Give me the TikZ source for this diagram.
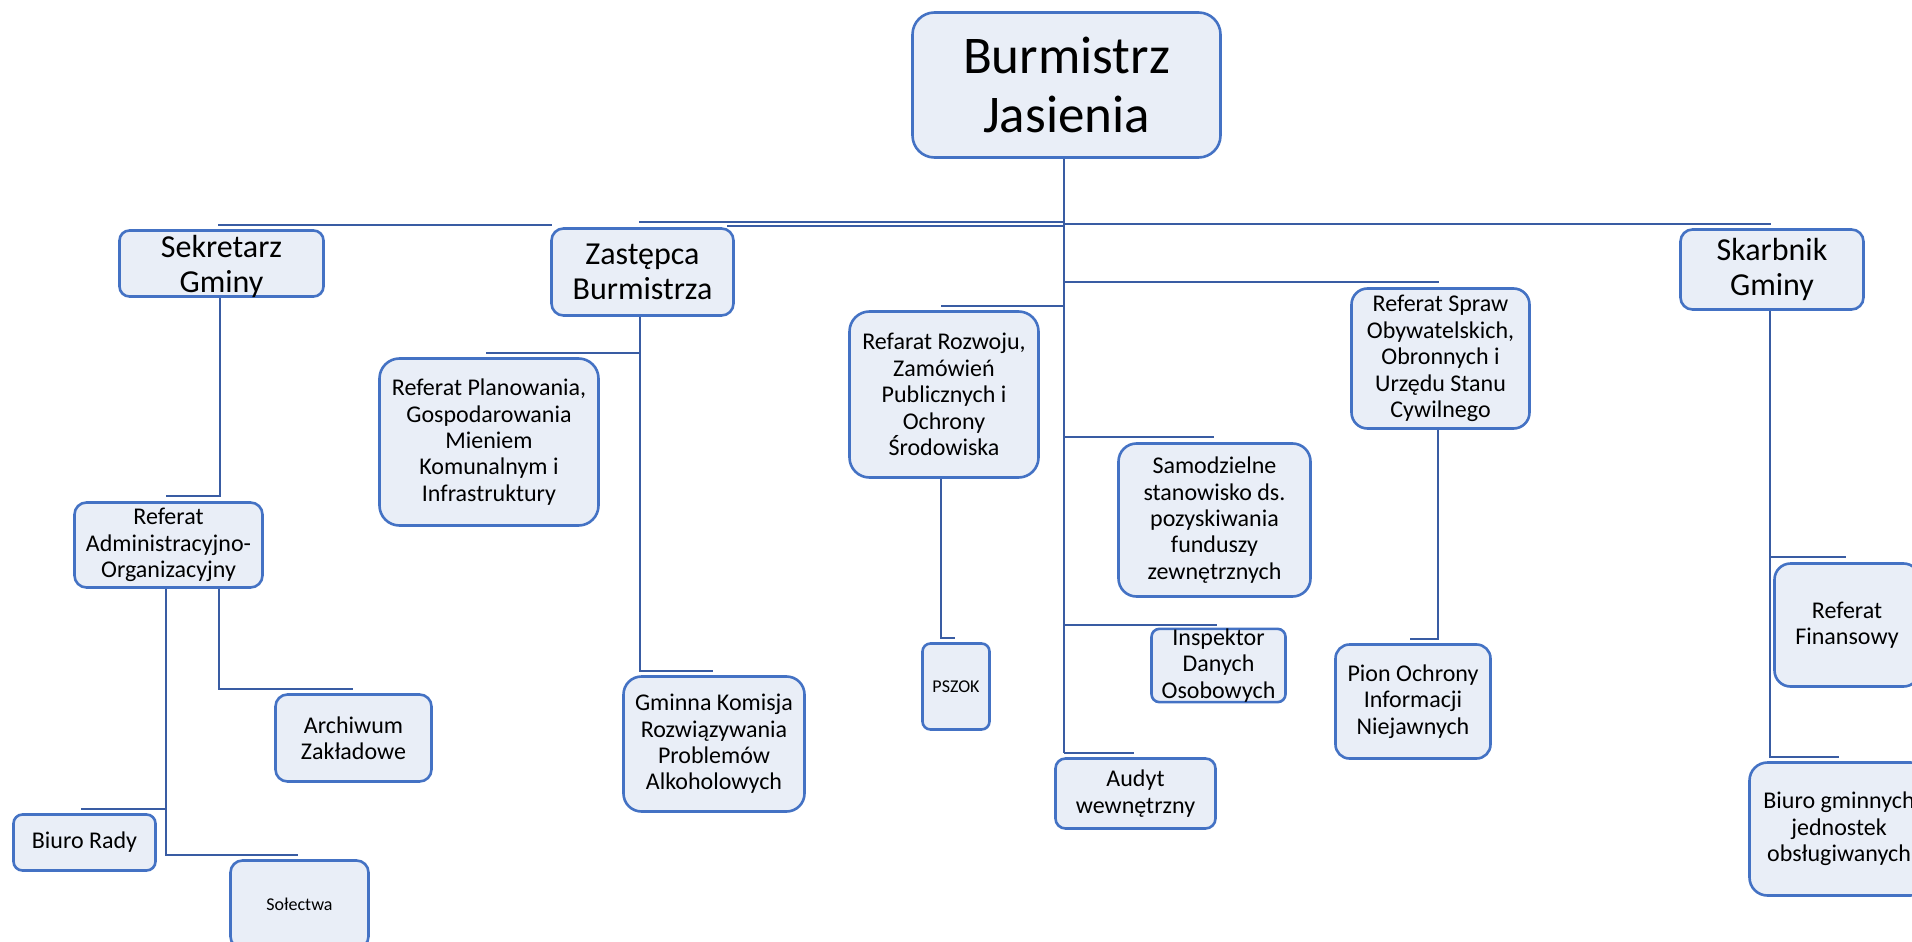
\documentclass[tikz,border=0pt]{standalone}
\usepackage{fontspec}
\setmainfont{Carlito}
\definecolor{boxline}{RGB}{68,114,196}
\definecolor{boxfill}{RGB}{233,238,247}
\definecolor{connline}{RGB}{57,92,163}
\begin{document}
\begin{tikzpicture}[x=1pt,y=-1pt,
  box/.style={draw=boxline, fill=boxfill, line width=2.6pt, rounded corners=#1,
              inner sep=0pt, align=center, text=black},
  box/.default=14pt,
  fA/.style={font=\fontsize{53}{59}\selectfont},
  fB/.style={font=\fontsize{32}{35}\selectfont},
  fC/.style={font=\fontsize{24}{26.4}\selectfont},
  fD/.style={font=\fontsize{18}{20}\selectfont},
  conn/.style={draw=connline, line width=2.9pt},
  thinconn/.style={draw=connline, line width=1.8pt}]
\useasboundingbox (0,0) rectangle (1912,942);
\fill[white] (0,0) rectangle (1912,942);
\clip (0,0) rectangle (1912,942);

% ---------- coordinates ----------
\coordinate (trunkEnd) at (1064,753);
\coordinate (hSkarbEnd) at (1771,224);
\coordinate (hTopR) at (1064,224);
\coordinate (hZasA) at (639,222);
\coordinate (hZasAend) at (1064,222);
\coordinate (hZasB) at (727,226);
\coordinate (hZasBend) at (1064,226);
\coordinate (hSekA) at (218,225);
\coordinate (hSekB) at (552,225);
\coordinate (zasBend) at (640,671);
\coordinate (zasMid) at (640,353);
\coordinate (planEnd) at (486,353);
\coordinate (gkEnd) at (713,671);
\coordinate (sekBend) at (220,496);
\coordinate (admEnd) at (166,496);
\coordinate (admL) at (166,855);
\coordinate (admLmid) at (166,809);
\coordinate (biuroEnd) at (81,809);
\coordinate (solEnd) at (298,855);
\coordinate (admR) at (219,689);
\coordinate (archEnd) at (353,689);
\coordinate (tRozw) at (1064,306);
\coordinate (rozwEnd) at (941,306);
\coordinate (tSpraw) at (1064,282);
\coordinate (sprawEnd) at (1439,282);
\coordinate (tSamo) at (1064,437);
\coordinate (samoEnd) at (1214,437);
\coordinate (tInsp) at (1064,625);
\coordinate (inspEnd) at (1217,625);
\coordinate (audEnd) at (1134,753);
\coordinate (rozwBend) at (941,638);
\coordinate (pszokEnd) at (955,638);
\coordinate (sprawBend) at (1438,639);
\coordinate (pionEnd) at (1410,639);
\coordinate (skBend) at (1770,757);
\coordinate (skMid) at (1770,557);
\coordinate (finEnd) at (1846,557);
\coordinate (bgjEnd) at (1839,757);

% ---------- boxes ----------
\node[box=22pt, fA, minimum width=308pt, minimum height=145pt] (burm) at (1066.5,85) {Burmistrz\\Jasienia};
\node[box=10pt, fB, minimum width=204pt, minimum height=66pt, text depth=0pt] (sek) at (221.5,263.5) {Sekretarz\\Gminy};
\node[box=12pt, fB, minimum width=182pt, minimum height=87pt] (zas) at (642.5,272) {Zastępca\\Burmistrza};
\node[box=12pt, fB, minimum width=183pt, minimum height=80pt] (skarb) at (1772,269.5) {Skarbnik\\Gminy};

\node[box=20pt, fC, minimum width=219pt, minimum height=167pt] (plan) at (489,442) {Referat Planowania,\\Gospodarowania\\Mieniem\\Komunalnym i\\Infrastruktury};
\node[box=12pt, fC, minimum width=188pt, minimum height=85pt] (admin) at (168.5,545) {Referat\\Administracyjno-\\Organizacyjny};
\node[box=12pt, fC, minimum width=156pt, minimum height=87pt] (arch) at (353.5,738) {Archiwum\\Zakładowe};
\node[box=9pt, fC, minimum width=142pt, minimum height=56pt] (biuro) at (84.5,842.5) {Biuro Rady};
\node[box=12pt, fD, minimum width=138pt, minimum height=88pt] (solect) at (299.5,904.5) {Sołectwa};
\node[box=18pt, fC, minimum width=181pt, minimum height=135pt] (gkrpa) at (714,744) {Gminna Komisja\\Rozwiązywania\\Problemów\\Alkoholowych};
\node[box=20pt, fC, minimum width=189pt, minimum height=166pt] (rozw) at (944,394.5) {Refarat Rozwoju,\\Zamówień\\Publicznych i\\Ochrony\\Środowiska};
\node[box=8pt, fD, minimum width=67pt, minimum height=86pt] (pszok) at (956,686.5) {PSZOK};
\node[box=18pt, fC, minimum width=192pt, minimum height=153pt] (samo) at (1214.5,520) {Samodzielne\\stanowisko ds.\\pozyskiwania\\funduszy\\zewnętrznych};
\node[box=8pt, fC, minimum width=134pt, minimum height=68pt] (insp) at (1218.5,665.5) {Inspektor\\Danych\\Osobowych};
\node[box=10pt, fC, minimum width=160pt, minimum height=70pt] (audyt) at (1135.5,793.5) {Audyt\\wewnętrzny};
\node[box=16pt, fC, minimum width=178pt, minimum height=140pt] (spraw) at (1440.5,358.5) {Referat Spraw\\Obywatelskich,\\Obronnych i\\Urzędu Stanu\\Cywilnego};
\node[box=14pt, fC, minimum width=155pt, minimum height=114pt] (pion) at (1413,701.5) {Pion Ochrony\\Informacji\\Niejawnych};
\node[box=16pt, fC, minimum width=145pt, minimum height=123pt] (finans) at (1847,625) {Referat\\Finansowy};
\node[box=18pt, fC, minimum width=179pt, minimum height=133pt] (bgj) at (1839,829) {Biuro gminnych\\jednostek\\obsługiwanych};

% ---------- connectors ----------
\draw[conn] ([xshift=-2.5pt]burm.south) -- (trunkEnd);
\draw[conn] (hTopR) -- (hSkarbEnd);
\draw[thinconn] (hZasA) -- (hZasAend);
\draw[conn] (hZasB) -- (hZasBend);
\draw[conn] (hSekA) -- (hSekB);

\draw[conn] ([xshift=-2.5pt]zas.south) -- (zasBend) -- (gkEnd);
\draw[conn] (zasMid) -- (planEnd);

\draw[conn] ([xshift=-1.5pt]sek.south) -- (sekBend) -- (admEnd);
\draw[conn] ([xshift=-2.5pt]admin.south) -- (admL) -- (solEnd);
\draw[conn] (admLmid) -- (biuroEnd);
\draw[conn] ([xshift=50.5pt]admin.south) -- (admR) -- (archEnd);

\draw[conn] (tRozw) -- (rozwEnd);
\draw[conn] (tSpraw) -- (sprawEnd);
\draw[conn] (tSamo) -- (samoEnd);
\draw[conn] (tInsp) -- (inspEnd);
\draw[conn] (trunkEnd) -- (audEnd);

\draw[conn] ([xshift=-3pt]rozw.south) -- (rozwBend) -- (pszokEnd);
\draw[conn] ([xshift=-2.5pt]spraw.south) -- (sprawBend) -- (pionEnd);
\draw[conn] ([xshift=-2pt]skarb.south) -- (skBend) -- (bgjEnd);
\draw[conn] (skMid) -- (finEnd);
\end{tikzpicture}
\end{document}
